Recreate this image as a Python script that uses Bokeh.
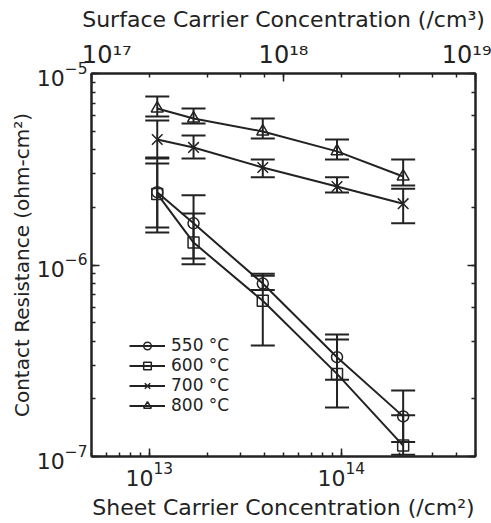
from bokeh.plotting import figure
from bokeh.models import (Range1d, LogAxis, LogScale, Whisker, ColumnDataSource,
                          Legend, LegendItem, TeeHead, CustomJSTickFormatter)
from bokeh.embed import file_html
from bokeh.resources import INLINE

# ---- data ----
sheet_conc = [1.1e13, 1.7e13, 3.9e13, 9.5e13, 2.1e14]
series_labels = ["550 \u00b0C", "600 \u00b0C", "700 \u00b0C", "800 \u00b0C"]
markers = ["circle", "square", "x", "triangle"]

rc_550 = [2.40e-6, 1.65e-6, 8.0e-7, 3.30e-7, 1.62e-7]
lo_550 = [1.48e-6, 1.08e-6, 7.4e-7, 2.52e-7, 1.19e-7]
hi_550 = [3.60e-6, 2.31e-6, 8.8e-7, 4.34e-7, 2.21e-7]

rc_600 = [2.35e-6, 1.31e-6, 6.5e-7, 2.70e-7, 1.14e-7]
lo_600 = [1.57e-6, 1.01e-6, 3.8e-7, 1.80e-7, 1.02e-7]
hi_600 = [3.39e-6, 1.86e-6, 9.0e-7, 4.08e-7, 1.64e-7]

rc_700 = [4.52e-6, 4.11e-6, 3.23e-6, 2.57e-6, 2.09e-6]
lo_700 = [3.64e-6, 3.60e-6, 2.87e-6, 2.39e-6, 1.65e-6]
hi_700 = [5.69e-6, 4.75e-6, 3.56e-6, 2.87e-6, 2.50e-6]

rc_800 = [6.57e-6, 5.82e-6, 4.98e-6, 3.92e-6, 2.90e-6]
lo_800 = [5.96e-6, 5.48e-6, 4.58e-6, 3.56e-6, 2.60e-6]
hi_800 = [7.58e-6, 6.56e-6, 5.82e-6, 4.52e-6, 3.56e-6]

series = [(rc_550, lo_550, hi_550), (rc_600, lo_600, hi_600),
          (rc_700, lo_700, hi_700), (rc_800, lo_800, hi_800)]

INK = "#222222"
FONT = "DejaVu Sans"

p = figure(width=491, height=523, x_axis_type="log", y_axis_type="log",
           x_range=Range1d(5e12, 5e14), y_range=Range1d(1e-7, 1e-5),
           output_backend="svg", toolbar_location=None,
           min_border_left=91, min_border_right=16, min_border_top=73, min_border_bottom=67,
           x_axis_label="Sheet Carrier Concentration (/cm\u00b2)",
           y_axis_label="Contact Resistance (ohm-cm\u00b2)")
p.extra_x_ranges = {"top": Range1d(1e17, 1e19)}
p.extra_x_scales = {"top": LogScale()}

top_fmt = CustomJSTickFormatter(code=r"""
const sup = {"0":"\u2070","1":"\u00b9","2":"\u00b2","3":"\u00b3","4":"\u2074",
             "5":"\u2075","6":"\u2076","7":"\u2077","8":"\u2078","9":"\u2079","-":"\u207b"};
const e = Math.round(Math.log10(tick));
let s = "10" + String(e).split("").map(c => sup[c]).join("");
if (index == 0) { s = "\u00a0\u00a0\u00a0\u00a0" + s; }
return s;
""")
top_axis = LogAxis(x_range_name="top", formatter=top_fmt,
                   axis_label="Surface Carrier Concentration (/cm\u00b3)")
p.add_layout(top_axis, "above")
right_axis = LogAxis(formatter=CustomJSTickFormatter(code="return ''"))
p.add_layout(right_axis, "right")

p.grid.visible = False
p.outline_line_color = INK
p.outline_line_width = 2
p.background_fill_color = "white"
p.border_fill_color = "white"

for ax in p.axis:
    ax.axis_line_width = 2
    ax.axis_line_color = INK
    ax.major_tick_in = 8
    ax.major_tick_out = 0
    ax.minor_tick_in = 4
    ax.minor_tick_out = 0
    ax.major_tick_line_width = 1.5
    ax.minor_tick_line_width = 1.5
    ax.major_tick_line_color = INK
    ax.minor_tick_line_color = INK
    ax.major_label_text_font = FONT
    ax.major_label_text_font_size = "22px"
    ax.major_label_text_color = INK
    ax.major_label_standoff = 5
    ax.axis_label_text_font = FONT
    ax.axis_label_text_font_size = "22px"
    ax.axis_label_text_font_style = "normal"
    ax.axis_label_text_color = INK
    ax.axis_label_standoff = 6

p.xaxis[0].major_label_standoff = 11
p.xaxis[0].axis_label_standoff = 2
p.yaxis[0].major_label_standoff = 4
p.yaxis[0].axis_label_text_font_size = "20px"
p.yaxis[0].axis_label_standoff = 0
top_axis.major_label_text_font_size = "24px"
top_axis.major_label_standoff = 5
top_axis.axis_label_standoff = 6

items = []
for (rc, lo, hi), lab, mk in zip(series, series_labels, markers):
    src = ColumnDataSource(dict(x=sheet_conc, y=rc, lo=lo, hi=hi))
    wh = Whisker(base="x", upper="hi", lower="lo", source=src,
                 line_width=2, line_color=INK,
                 upper_head=TeeHead(size=24, line_width=2, line_color=INK),
                 lower_head=TeeHead(size=24, line_width=2, line_color=INK))
    p.add_layout(wh)
    lr = p.line("x", "y", source=src, line_width=2, line_color=INK)
    size = 15 if mk == "x" else (12 if mk == "triangle" else 11)
    mr = p.scatter("x", "y", source=src, marker=mk, size=size,
                   line_color=INK, line_width=1.5, fill_alpha=0)
    items.append(LegendItem(label=lab, renderers=[lr, mr]))

legend = Legend(items=items, location=(38, 41))
legend.background_fill_alpha = 0
legend.border_line_color = None
legend.padding = 0
legend.margin = 0
legend.spacing = 0
legend.glyph_width = 36
legend.glyph_height = 19
legend.label_height = 19
legend.label_standoff = 6
legend.label_text_font = FONT
legend.label_text_font_size = "17px"
legend.label_text_color = INK
p.add_layout(legend)

open("out.html", "w").write(file_html(p, INLINE))
